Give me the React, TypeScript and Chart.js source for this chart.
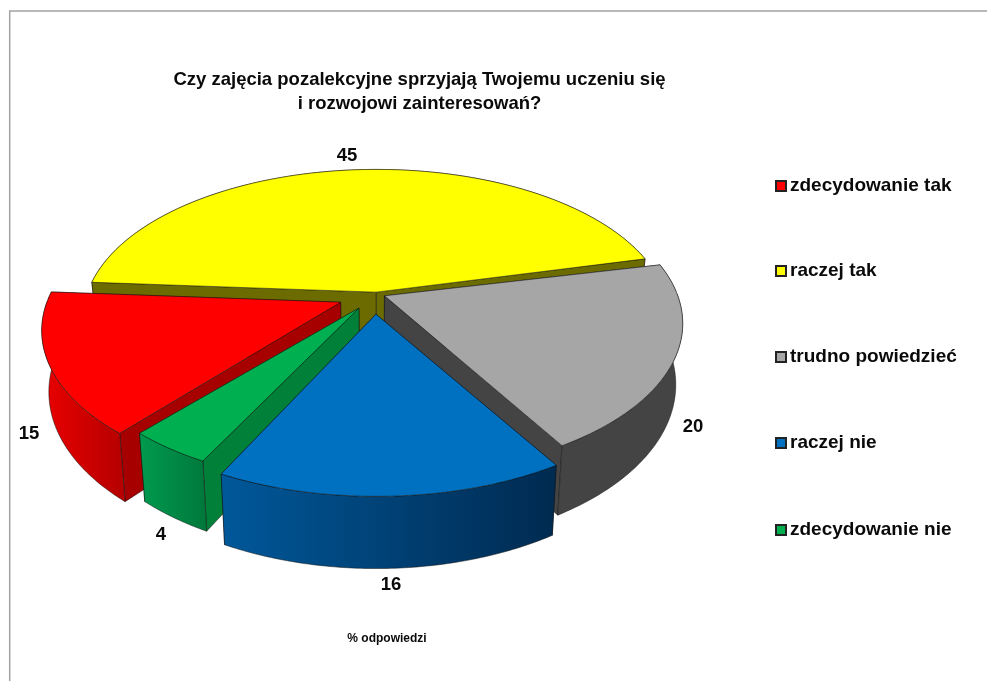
import React, { useEffect, useRef } from "react";
import { Chart, registerables } from "chart.js";

Chart.register(...registerables);

const categories = ["zdecydowanie tak", "raczej tak", "trudno powiedzieć", "raczej nie", "zdecydowanie nie"];
const values = [15, 45, 20, 16, 4];
const titleLines = ["Czy zajęcia pozalekcyjne sprzyjają Twojemu uczeniu się", "i rozwojowi zainteresowań?"];
const note = "% odpowiedzi";

const topColors = ["#ff0000", "#ffff00", "#a6a6a6", "#0070c0", "#00b050"];
const faceColors = ["#a60000", "#6b6b00", "#444444", "#003a68", "#008038"];
const wallFrom = ["#e60000", "#8f8f00", "#444444", "#00589a", "#009a4e"];
const wallTo = ["#b80000", "#8f8f00", "#444444", "#002a50", "#007a3c"];
const explode = [0.09, 0.075, 0.065, 0.075, 0.09];
const nudgeX = [-2, 11, 0, 8, 7];
const nudgeY = [-8, -2, -13, -2, -8];
const spinDeg = [1.5, 1.5, 3, 2.2, 3];
const radius = [1, 1, 1, 1, 0.97];
const labelPos = [[29, 434], [347, 156], [693, 427], [391, 585], [161, 535]];
const legendY = [186, 271, 357, 443, 530];
const drawOrder = [1, 2, 0, 4, 3];

const CX = 367, CY = 305, A = 292, B = 147, K = 0.17, D = 59, SHRINK = 0.978;

type Pt = [number, number];
function project(X: number, Y: number, bottom: boolean): Pt {
  const w = 1 - K * Y;
  const sx = CX + (A * X) / w;
  const sy = CY + (B * Y) / w;
  if (!bottom) return [sx, sy];
  return [CX + (sx - CX) * SHRINK, sy + D / w];
}

const piePlugin = {
  id: "pie3d",
  beforeDatasetDraw(chart: any) {
    const ctx: CanvasRenderingContext2D = chart.ctx;
    const arcs = chart.getDatasetMeta(0).data;
    // frame
    ctx.save();
    ctx.strokeStyle = "#a3a3a3";
    ctx.lineWidth = 1.5;
    ctx.beginPath();
    ctx.moveTo(987, 11);
    ctx.lineTo(9.7, 11);
    ctx.lineTo(9.7, 681);
    ctx.stroke();
    ctx.restore();

    const stroke = "rgba(20,20,20,0.65)";
    const poly = (pts: Pt[], fill: string | CanvasGradient, line = true) => {
      ctx.beginPath();
      pts.forEach((p, i) => (i ? ctx.lineTo(p[0], p[1]) : ctx.moveTo(p[0], p[1])));
      ctx.closePath();
      ctx.fillStyle = fill;
      ctx.fill();
      if (line) {
        ctx.strokeStyle = stroke;
        ctx.lineWidth = 0.8;
        ctx.stroke();
      }
    };

    for (const i of drawOrder) {
      const a = arcs[i];
      const spin = (spinDeg[i] * Math.PI) / 180;
      const s = (a.startAngle as number) + spin, e = (a.endAngle as number) + spin;
      const mid = (s + e) / 2;
      const ox = explode[i] * Math.cos(mid), oy = explode[i] * Math.sin(mid);
      const shift = (p: Pt): Pt => [p[0] + nudgeX[i], p[1] + nudgeY[i]];
      const at = (t: number, b: boolean) =>
        shift(project(ox + radius[i] * Math.cos(t), oy + radius[i] * Math.sin(t), b));
      const apex = (b: boolean) => shift(project(ox, oy, b));
      const n = 80;
      const angs: number[] = [];
      for (let j = 0; j <= n; j++) angs.push(s + ((e - s) * j) / n);

      const wall = (list: number[], fill: string | CanvasGradient) => {
        if (list.length < 2) return;
        const pts: Pt[] = list.map((t) => at(t, false)).concat(list.slice().reverse().map((t) => at(t, true)));
        poly(pts, fill);
      };
      const front = angs.filter((t) => Math.sin(t) >= -0.02);
      const back = angs.filter((t) => Math.sin(t) < -0.02);

      wall(back, faceColors[i]);
      // the radial face further from the viewer goes first
      [s, e]
        .sort((p, q) => Math.sin(p) - Math.sin(q))
        .forEach((t) => poly([apex(false), at(t, false), at(t, true), apex(true)], faceColors[i]));
      if (front.length > 1) {
        const p0 = at(front[0], false), p1 = at(front[front.length - 1], false);
        const g = ctx.createLinearGradient(Math.min(p0[0], p1[0]), 0, Math.max(p0[0], p1[0]), 0);
        g.addColorStop(0, wallFrom[i]);
        g.addColorStop(1, wallTo[i]);
        wall(front, g);
      }
      poly([apex(false), ...angs.map((t) => at(t, false))], topColors[i]);
    }
    return false;
  },
  afterDraw(chart: any) {
    const ctx: CanvasRenderingContext2D = chart.ctx;
    ctx.save();
    ctx.fillStyle = "#0a0a0a";
    ctx.textBaseline = "middle";
    ctx.textAlign = "center";
    ctx.font = "bold 18.5px 'Liberation Sans'";
    values.forEach((v, i) => ctx.fillText(String(v), labelPos[i][0], labelPos[i][1]));
    ctx.font = "bold 12px 'Liberation Sans'";
    ctx.fillText(note, 387, 639);
    ctx.textAlign = "left";
    ctx.font = "bold 19px 'Liberation Sans'";
    categories.forEach((c, i) => {
      const y = legendY[i];
      ctx.fillStyle = topColors[i];
      ctx.strokeStyle = "#222222";
      ctx.lineWidth = 2;
      ctx.fillRect(776, y - 5, 10, 10);
      ctx.strokeRect(776, y - 5, 10, 10);
      ctx.fillStyle = "#0a0a0a";
      ctx.fillText(c, 790, y);
    });
    ctx.restore();
  },
};

export default function App() {
  const ref = useRef<HTMLCanvasElement>(null);
  useEffect(() => {
    const chart = new Chart(ref.current as HTMLCanvasElement, {
      type: "pie",
      data: {
        labels: categories,
        datasets: [{ data: values, backgroundColor: topColors, borderWidth: 0 }],
      },
      options: {
        responsive: false,
        animation: false,
        rotation: 218.5,
        layout: { padding: { top: 68, right: 148 } },
        plugins: {
          legend: { display: false },
          tooltip: { enabled: false },
          title: {
            display: true,
            text: titleLines,
            color: "#0a0a0a",
            font: { family: "'Liberation Sans'", size: 18.5, weight: "bold", lineHeight: 1.3 },
            padding: 0,
          },
        },
      } as any,
      plugins: [piePlugin as any],
    });
    return () => chart.destroy();
  }, []);
  return (
    <div style={{ position: "fixed", left: 0, top: 0, width: 987, height: 681, background: "#fff" }}>
      <canvas ref={ref} width={987} height={681} style={{ display: "block" }} />
    </div>
  );
}
